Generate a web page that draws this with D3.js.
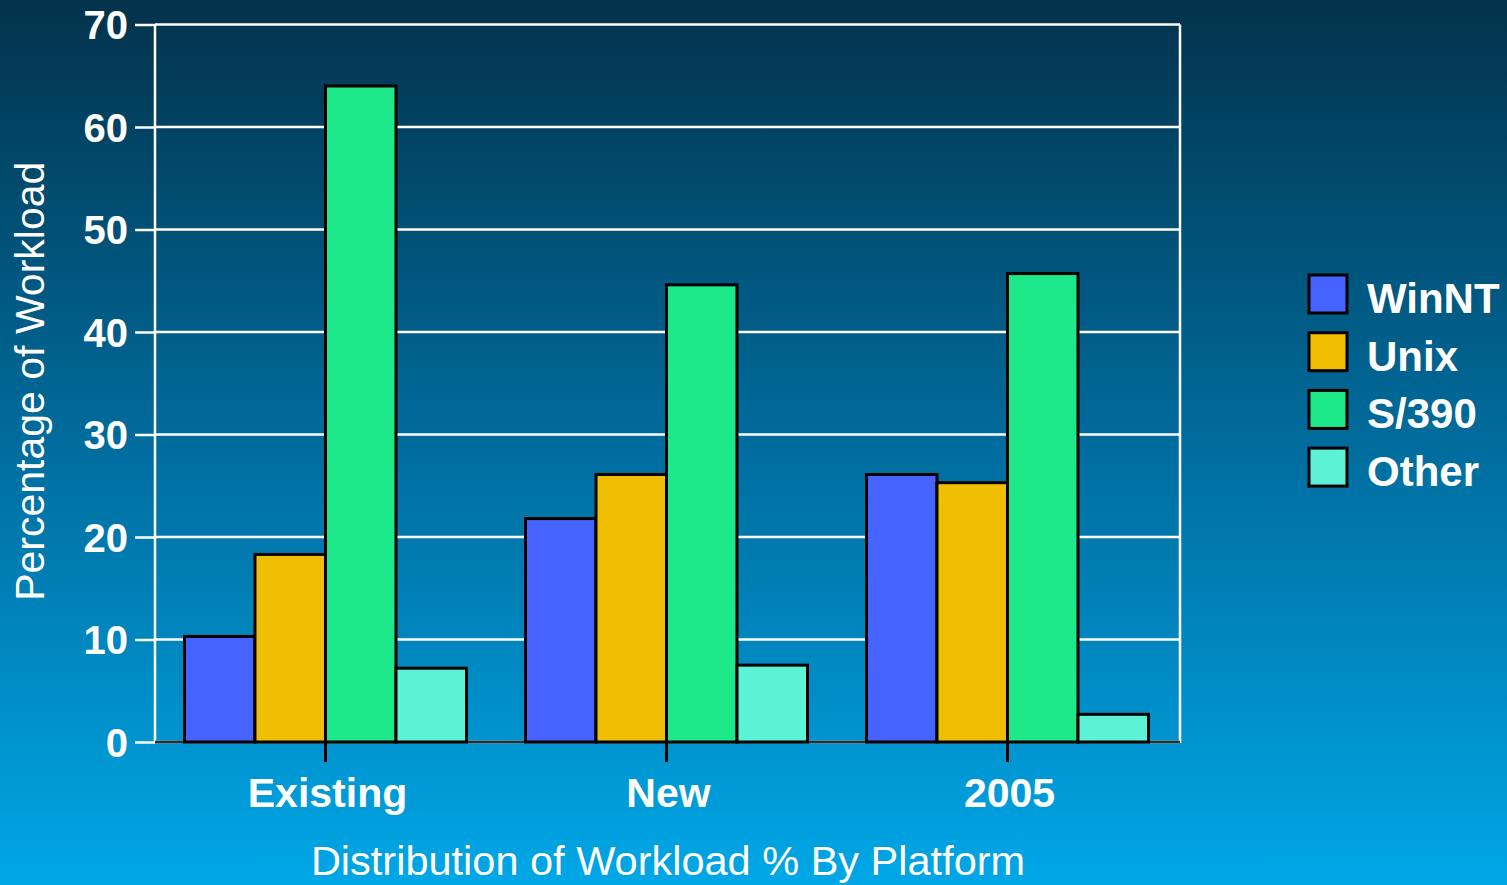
<!DOCTYPE html>
<html>
<head>
<meta charset="utf-8">
<script src="https://cdn.jsdelivr.net/npm/d3@7"></script>
<style>
html,body{margin:0;padding:0;overflow:hidden;}
svg{display:block;}
</style>
</head>
<body>
<svg id="chart" width="1507" height="885"></svg>
<script>
const categories = ["Existing", "New", "2005"];
const seriesNames = ["WinNT", "Unix", "S/390", "Other"];
const winNT = [10.3, 21.8, 26.1];
const unix = [18.3, 26.1, 25.3];
const s390 = [64.0, 44.6, 45.7];
const other = [7.2, 7.5, 2.7];
const yTicks = [0, 10, 20, 30, 40, 50, 60, 70];
const seriesColors = ["#4763ff", "#efbe00", "#1de88a", "#5cf2d6"];

const seriesValues = [winNT, unix, s390, other];
const W = 1507, H = 885;
const plot = {left: 155, right: 1180, top: 24.5, bottom: 742};
const svg = d3.select("#chart");

// background gradient
const defs = svg.append("defs");
const grad = defs.append("linearGradient").attr("id", "bg").attr("x1", 0).attr("y1", 0).attr("x2", 0).attr("y2", 1);
grad.append("stop").attr("offset", "0%").attr("stop-color", "#03324b");
grad.append("stop").attr("offset", "50%").attr("stop-color", "#006c9d");
grad.append("stop").attr("offset", "100%").attr("stop-color", "#00a7e7");
svg.append("rect").attr("width", W).attr("height", H).attr("fill", "url(#bg)");

const x0 = d3.scaleBand().domain(categories).range([plot.left, plot.right - 2])
  .paddingInner(0.173).paddingOuter(0.0865);
const x1 = d3.scaleBand().domain(seriesNames).range([0, x0.bandwidth()]);
const y = d3.scaleLinear().domain([0, 70]).range([plot.bottom, plot.top]);

// gridlines
svg.append("g").selectAll("line").data(yTicks).join("line")
  .attr("x1", plot.left).attr("x2", plot.right)
  .attr("y1", d => y(d)).attr("y2", d => y(d))
  .attr("stroke", "#ffffff").attr("stroke-width", 2.5);

// plot frame (left & right white)
svg.append("line").attr("x1", plot.left).attr("x2", plot.left).attr("y1", plot.top).attr("y2", plot.bottom + 1)
  .attr("stroke", "#fff").attr("stroke-width", 2.5);
svg.append("line").attr("x1", plot.right).attr("x2", plot.right).attr("y1", plot.top).attr("y2", plot.bottom + 1)
  .attr("stroke", "#fff").attr("stroke-width", 2.5);

// y axis
const yAxis = d3.axisLeft(y).tickValues(yTicks).tickSize(20).tickPadding(7).tickFormat(d3.format("d"));
const gy = svg.append("g").attr("transform", `translate(${plot.left},0)`).call(yAxis);
gy.select(".domain").remove();
gy.selectAll(".tick line").attr("stroke", "#fff").attr("stroke-width", 2.5);
gy.selectAll(".tick text").attr("fill", "#fff")
  .style("font-family", "'Liberation Sans', Arial, sans-serif")
  .style("font-weight", "bold").style("font-size", "40px").attr("dy", "0.36em");

// baseline
svg.append("line").attr("x1", plot.left).attr("x2", plot.right).attr("y1", plot.bottom).attr("y2", plot.bottom)
  .attr("stroke", "#2e2e2e").attr("stroke-width", 2.5);

// bars
const groups = svg.append("g").selectAll("g").data(categories).join("g")
  .attr("transform", d => `translate(${x0(d)},0)`);
groups.selectAll("rect").data((c, ci) => seriesNames.map((s, si) => ({s, si, v: seriesValues[si][ci]})))
  .join("rect")
  .attr("x", d => x1(d.s)).attr("width", x1.bandwidth())
  .attr("y", d => y(d.v)).attr("height", d => y(0) - y(d.v))
  .attr("fill", d => seriesColors[d.si])
  .attr("stroke", "#000").attr("stroke-width", 3);

// x axis
const xAxis = d3.axisBottom(x0).tickSize(20).tickPadding(16);
const gx = svg.append("g").attr("transform", `translate(0,${plot.bottom})`).call(xAxis);
gx.select(".domain").remove();
gx.selectAll(".tick line").attr("stroke", "#000").attr("stroke-width", 3);
gx.selectAll(".tick text").attr("fill", "#fff")
  .style("font-family", "'Liberation Sans', Arial, sans-serif")
  .style("font-weight", "bold").style("font-size", "41px").attr("dy", "0.71em")
  .attr("dx", "2");

// axis titles
svg.append("text").attr("transform", `translate(44,${(plot.top + plot.bottom) / 2 - 2}) rotate(-90)`)
  .attr("text-anchor", "middle").attr("fill", "#fff")
  .style("font-family", "'Liberation Sans', Arial, sans-serif").style("font-size", "41px")
  .text("Percentage of Workload");
svg.append("text").attr("x", (plot.left + plot.right) / 2 + 0.5).attr("y", 875)
  .attr("text-anchor", "middle").attr("fill", "#fff")
  .style("font-family", "'Liberation Sans', Arial, sans-serif").style("font-size", "41.5px")
  .text("Distribution of Workload % By Platform");

// legend
const legend = svg.append("g").attr("transform", "translate(1309,275)");
const li = legend.selectAll("g").data(seriesNames).join("g")
  .attr("transform", (d, i) => `translate(0,${i * 57.7})`);
li.append("rect").attr("width", 38).attr("height", 38)
  .attr("fill", (d, i) => seriesColors[i]).attr("stroke", "#000").attr("stroke-width", 3);
li.append("text").attr("x", 58).attr("y", 38).attr("fill", "#fff")
  .style("font-family", "'Liberation Sans', Arial, sans-serif")
  .style("font-weight", "bold").style("font-size", "42px")
  .text(d => d);
</script>
</body>
</html>
